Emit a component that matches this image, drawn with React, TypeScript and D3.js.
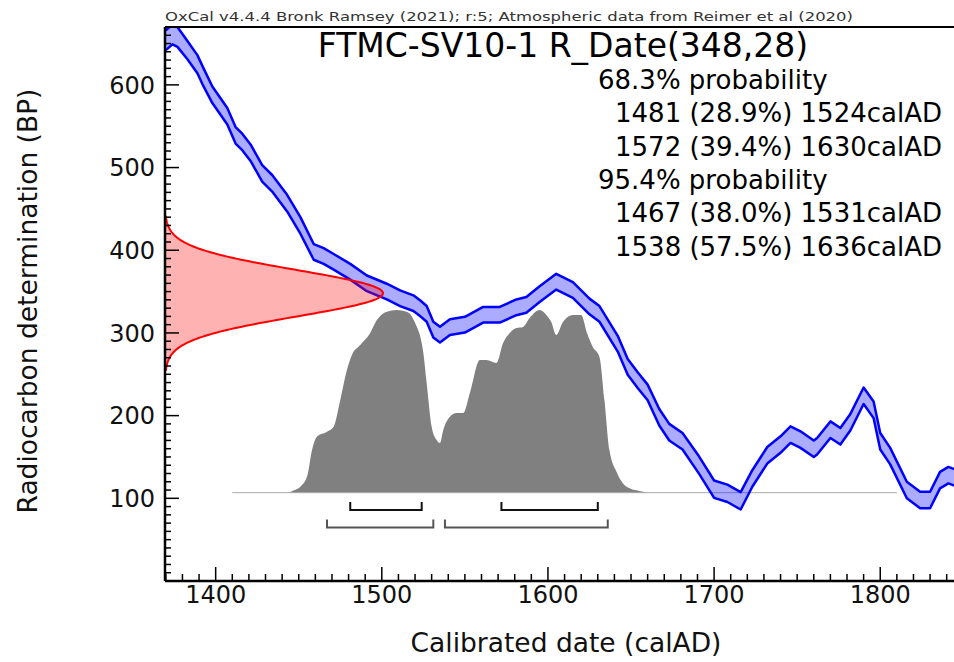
import React from 'react';
import * as d3 from 'd3';

// Calibration curve (IntCal20 as plotted): calendar year AD, radiocarbon age BP, 1-sigma
const curveYears = [1370,1374,1377,1383,1389,1392,1398,1407,1412,1416,1421,1428,1434,1443,1451,1459,1465,1471,1481,1491,1503,1511,1519,1523,1527,1531,1535,1541,1550,1561,1571,1581,1587,1595,1605,1615,1625,1631,1642,1648,1654,1660,1667,1673,1681,1691,1700,1708,1716,1723,1732,1740,1746,1752,1760,1762,1770,1776,1782,1790,1796,1800,1806,1816,1824,1830,1836,1841,1845];
const curveBP = [654,661,658,642,625,612,588,562,539,531,518,493,481,457,430,398,393,386,374,360,350,342,336,330,323,304,298,307,310,322,322,331,334,347,362,352,332,323,287,259,243,228,198,180,169,140,111,106,97,124,152,165,177,171,160,163,183,175,192,224,207,169,151,110,98,98,122,128,125];
const curveSigma = [12,12,12,11,11,11,10,10,10,10,10,10,10,10,10,9.5,9.5,9.5,9.5,9.5,9.5,9.5,9.5,9.5,9.5,9.5,9.5,9.5,9.5,9.5,9.5,9.5,9.5,9.5,9.5,9.5,9.5,9.5,9.5,9.5,9.5,9.5,10,10,10,10.5,10.5,10.5,10.5,10,10,10,10,10,10,10,10,10,10,10,10,10,10,10,10,10,10,10,10];

// Calibrated probability distribution (relative)
const distYears = [1410,1443,1446.5,1451,1455,1458,1461,1467,1471,1475,1479,1482,1487,1493,1497,1503,1509,1515,1520,1525,1527,1530,1533,1535,1537,1541,1545,1549,1553,1559,1563,1569,1573,1577,1581,1585,1589,1595,1599,1602,1605,1609,1615,1620,1623.5,1627,1631,1634,1637,1641.6,1647.6,1655,1661,1810];
const distProb = [0,0,0.011,0.033,0.088,0.234,0.307,0.334,0.361,0.507,0.672,0.754,0.808,0.874,0.945,0.991,1.0,0.991,0.93,0.765,0.6,0.361,0.288,0.272,0.343,0.416,0.436,0.436,0.546,0.726,0.726,0.71,0.819,0.874,0.901,0.907,0.956,1.0,0.973,0.934,0.863,0.934,0.973,0.973,0.874,0.797,0.743,0.507,0.234,0.108,0.031,0.009,0,0];

// Radiocarbon determination
const rDateMean = 348;
const rDateSigma = 28;

// Ranges
const range68 = [[1481, 1524], [1572, 1630]];
const range95 = [[1467, 1531], [1538, 1636]];

const headerText = 'OxCal v4.4.4 Bronk Ramsey (2021); r:5; Atmospheric data from Reimer et al (2020)';
const titleText = 'FTMC-SV10-1 R_Date(348,28)';
const summaryLines = [
  { text: '68.3% probability', indent: false },
  { text: '1481 (28.9%) 1524calAD', indent: true },
  { text: '1572 (39.4%) 1630calAD', indent: true },
  { text: '95.4% probability', indent: false },
  { text: '1467 (38.0%) 1531calAD', indent: true },
  { text: '1538 (57.5%) 1636calAD', indent: true },
];
const xTickLabels = [1400, 1500, 1600, 1700, 1800];
const yTickLabels = [100, 200, 300, 400, 500, 600];

const FONT = 'DejaVu Sans, Verdana, sans-serif';

export default function App() {
  const W = 954, H = 662;
  const left = 165, right = 955, top = 27, bottom = 581;
  const x = d3.scaleLinear().domain([1369.5, 1845]).range([left, right]);
  const y = d3.scaleLinear().domain([0, 670]).range([bottom, top]);

  const curve = curveYears.map((yr, i) => ({ yr, bp: curveBP[i], s: curveSigma[i] }));
  const bandArea = d3.area<any>().x(d => x(d.yr)).y0(d => y(d.bp - d.s)).y1(d => y(d.bp + d.s))(curve) || '';
  const upperLine = d3.line<any>().x(d => x(d.yr)).y(d => y(d.bp + d.s))(curve) || '';
  const lowerLine = d3.line<any>().x(d => x(d.yr)).y(d => y(d.bp - d.s))(curve) || '';

  // red normal distribution on the y axis
  const bpSamples = d3.range(rDateMean - 3.3 * rDateSigma, rDateMean + 3.3 * rDateSigma + 0.5, 1);
  const pdf = (v: number) => Math.exp(-0.5 * ((v - rDateMean) / rDateSigma) ** 2);
  const dens = d3.scaleLinear().domain([0, 1]).range([left, 383]);
  const redPts: [number, number][] = bpSamples.map(v => [dens(pdf(v)), y(v)]);
  const redPath = 'M' + [[left, y(bpSamples[0])], ...redPts, [left, y(bpSamples[bpSamples.length - 1])]].map(p => p.join(',')).join('L') + 'Z';

  // gray calibrated distribution
  const dist = distYears.map((yr, i) => ({ yr, p: distProb[i] }));
  const baseY = 492.7;
  const h = d3.scaleLinear().domain([0, 1]).range([baseY, 310]);
  const distArea = d3.area<any>().x(d => x(d.yr)).y0(baseY).y1(d => h(d.p)).curve(d3.curveMonotoneX)(dist) || '';

  const xTicks = d3.range(1370, 1845, 10);
  const yTicks = d3.range(0, 671, 10);

  const bracket = (r: number[][], yy: number, color: string, key: string) =>
    r.map(([a, b], i) => (
      <path key={key + i} d={`M${x(a)},${yy - 8}L${x(a)},${yy}L${x(b)},${yy}L${x(b)},${yy - 8}`}
        fill="none" stroke={color} strokeWidth={2} />
    ));

  return (
    <svg width={W} height={H} style={{ position: 'absolute', left: 0, top: 0, background: '#fff' }} fontFamily={FONT}>
      <defs>
        <clipPath id="plotClip">
          <rect x={left} y={top} width={right - left} height={bottom - top} />
        </clipPath>
      </defs>
      <rect x={0} y={0} width={W} height={H} fill="#fff" />
      <text x={left} y={21} fontSize={12} fill="#333" textLength={688} lengthAdjust="spacingAndGlyphs">{headerText}</text>

      <g clipPath="url(#plotClip)">
        <path d={distArea} fill="#808080" stroke="none" />
        <line x1={x(distYears[0])} x2={x(distYears[distYears.length - 1])} y1={baseY} y2={baseY} stroke="#aaa" strokeWidth={1} />
        <path d={bandArea} fill="rgba(0,0,255,0.33)" stroke="none" />
        <path d={upperLine} fill="none" stroke="#0000ff" strokeWidth={2.5} strokeLinejoin="round" />
        <path d={lowerLine} fill="none" stroke="#0000ff" strokeWidth={2.5} strokeLinejoin="round" />
        <path d={redPath} fill="rgba(255,0,0,0.3)" stroke="#ff0000" strokeWidth={2} />
      </g>

      {bracket(range68, 510, '#111', 'r68')}
      {bracket(range95, 527.5, '#555', 'r95')}

      {/* axes */}
      <line x1={left} x2={left} y1={top} y2={bottom} stroke="#000" strokeWidth={2.5} />
      <line x1={left} x2={W} y1={bottom} y2={bottom} stroke="#000" strokeWidth={2.5} />
      <line x1={left} x2={W} y1={top} y2={top} stroke="#000" strokeWidth={2} />
      {xTicks.map(t => (
        <line key={'xt' + t} x1={x(t)} x2={x(t)} y1={bottom} y2={bottom - (t % 100 === 0 ? 14 : 7)} stroke="#000" strokeWidth={1.5} />
      ))}
      {yTicks.map(t => (
        <line key={'yt' + t} x1={left} x2={left + (t % 100 === 0 ? 14 : 6)} y1={y(t)} y2={y(t)} stroke="#000" strokeWidth={1.5} />
      ))}
      {xTickLabels.map(t => (
        <text key={'xl' + t} x={x(t)} y={603} fontSize={24} textAnchor="middle" fill="#111">{t}</text>
      ))}
      {yTickLabels.map(t => (
        <text key={'yl' + t} x={155} y={y(t)} dy="0.36em" fontSize={24} textAnchor="end" fill="#111">{t}</text>
      ))}
      <text x={566} y={652} fontSize={26.5} textAnchor="middle" fill="#111">Calibrated date (calAD)</text>
      <text transform={`translate(37,301) rotate(-90)`} fontSize={26.5} textAnchor="middle" fill="#111">Radiocarbon determination (BP)</text>

      <text x={563} y={57} fontSize={33} textAnchor="middle" fill="#000">{titleText}</text>
      {summaryLines.map((l, i) => (
        <text key={'s' + i} x={l.indent ? 615 : 598} y={89 + i * 33.3} fontSize={26} fill="#000">{l.text}</text>
      ))}
    </svg>
  );
}
